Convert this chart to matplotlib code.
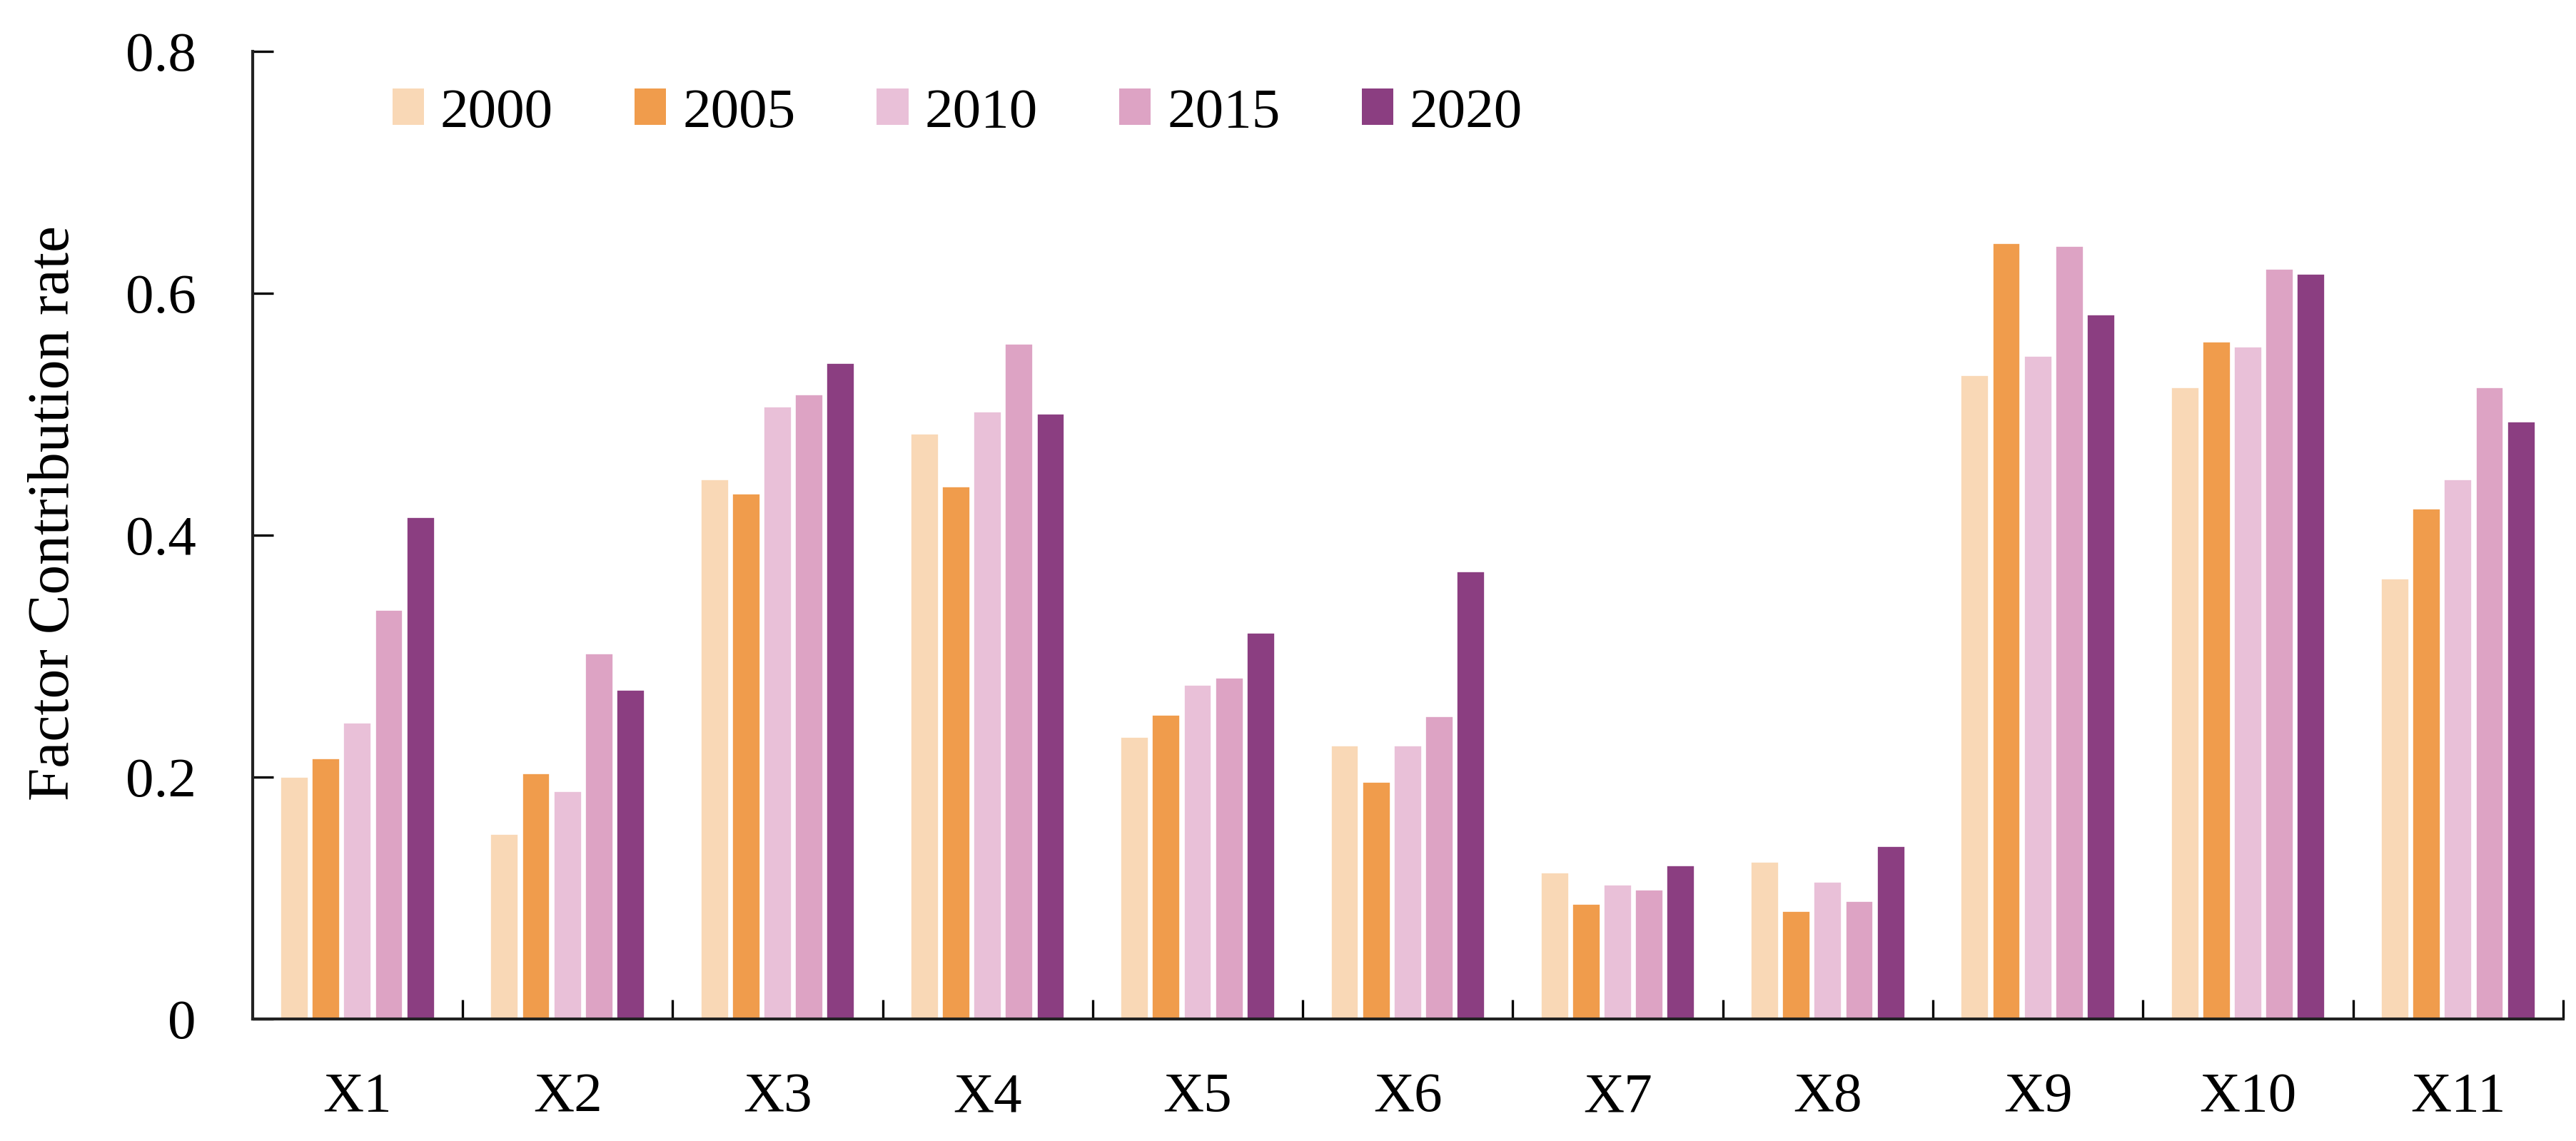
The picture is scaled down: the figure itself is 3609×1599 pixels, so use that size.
import matplotlib.pyplot as plt
import numpy as np
from matplotlib.ticker import FixedLocator, FuncFormatter
from matplotlib.patches import Patch

# factor contribution rates
factors = ['X1', 'X2', 'X3', 'X4', 'X5', 'X6', 'X7', 'X8', 'X9', 'X10', 'X11']
years = ['2000', '2005', '2010', '2015', '2020']

rate_2000 = [0.200, 0.153, 0.446, 0.484, 0.233, 0.226, 0.121, 0.130, 0.532, 0.522, 0.364]
rate_2005 = [0.215, 0.203, 0.434, 0.440, 0.251, 0.196, 0.095, 0.089, 0.641, 0.560, 0.422]
rate_2010 = [0.245, 0.188, 0.506, 0.502, 0.276, 0.226, 0.111, 0.113, 0.548, 0.556, 0.446]
rate_2015 = [0.338, 0.302, 0.516, 0.558, 0.282, 0.250, 0.107, 0.097, 0.639, 0.620, 0.522]
rate_2020 = [0.415, 0.272, 0.542, 0.500, 0.319, 0.370, 0.127, 0.143, 0.582, 0.616, 0.494]

colors = ['#F9D8B6', '#F09C4C', '#E9C0D8', '#DDA3C4', '#8B3E81']

plt.rcParams['font.family'] = ['Liberation Serif', 'DejaVu Serif']

fig = plt.figure(figsize=(3609 / 300, 1599 / 300), dpi=300)
ax = fig.add_axes([0.098, 0.107, 0.897, 0.848])

x = np.arange(len(factors))
pitch = 0.15
width = 0.132
series = [rate_2000, rate_2005, rate_2010, rate_2015, rate_2020]
for i, (vals, col) in enumerate(zip(series, colors)):
    ax.bar(x + (i - 2) * pitch, vals, width=width, color=col,
           edgecolor='white', linewidth=0.4, zorder=2)

ax.set_xlim(-0.5, len(factors) - 0.5)
ax.set_ylim(0, 0.8)

# spines
for s in ['top', 'right']:
    ax.spines[s].set_visible(False)
for s in ['left', 'bottom']:
    ax.spines[s].set_linewidth(1.0)
    ax.spines[s].set_color('#222222')

# y ticks
ax.set_yticks([0, 0.2, 0.4, 0.6, 0.8])
ax.yaxis.set_major_formatter(FuncFormatter(lambda v, p: '0' if v == 0 else f'{v:.1f}'))
ax.tick_params(axis='y', direction='in', length=7, width=0.8, pad=19, labelsize=19)

# x ticks: labels at group centres, tick marks between groups
ax.set_xticks(x)
ax.set_xticklabels(factors)
ax.tick_params(axis='x', which='major', length=0, pad=18, labelsize=19)
ax.xaxis.set_minor_locator(FixedLocator(np.arange(0.5, len(factors), 1.0)))
ax.tick_params(axis='x', which='minor', direction='in', length=6.5, width=0.8)

ax.set_ylabel('Factor Contribution rate', fontsize=20)
ax.yaxis.set_label_coords(-0.074, 0.523)

handles = [Patch(facecolor=c, edgecolor='none') for c in colors]
ax.legend(handles, years, loc='center left', bbox_to_anchor=(0.0605, 0.936), ncol=5,
          frameon=False, fontsize=19, handlelength=0.56, handleheight=0.61,
          handletextpad=0.29, columnspacing=1.44, borderpad=0, borderaxespad=0)

fig.savefig('out.png', dpi=300)
